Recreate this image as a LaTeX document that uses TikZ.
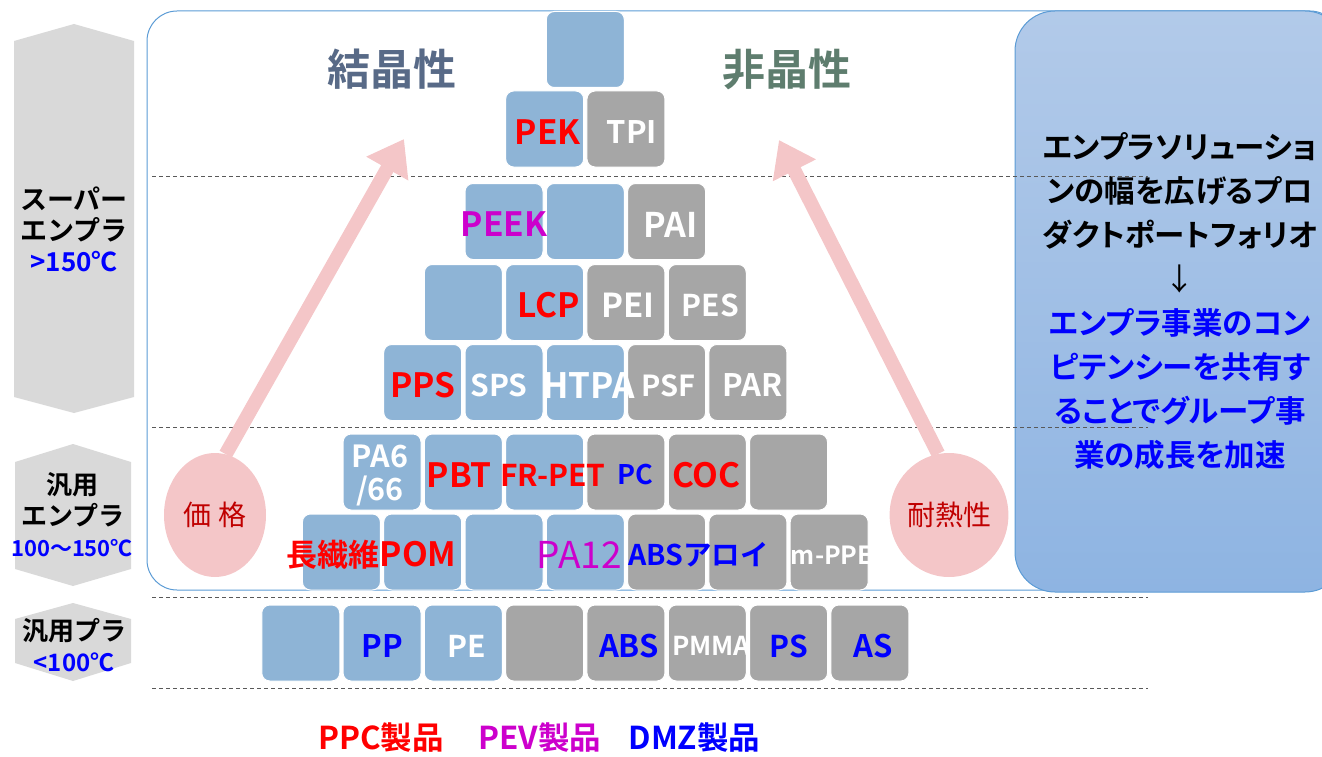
\documentclass[tikz,border=0pt]{standalone}
\usepackage{fontspec}
\setmainfont{Noto Sans CJK JP}[BoldFont={Noto Sans CJK JP Bold}]
\newfontfamily\jpb{Noto Sans CJK JP Bold}
\newfontfamily\jpr{Noto Sans CJK JP}
\newfontfamily\jpbp{Noto Sans CJK JP Bold}[RawFeature=+palt]
\usetikzlibrary{shapes.geometric,arrows.meta,positioning}
\definecolor{plblue}{RGB}{142,180,214}
\definecolor{plgray}{RGB}{166,166,166}
\definecolor{hexgray}{RGB}{217,217,217}
\definecolor{ppcred}{RGB}{255,0,0}
\definecolor{pevmag}{RGB}{204,0,204}
\definecolor{dmzblue}{RGB}{0,0,255}
\definecolor{pinkarr}{RGB}{244,198,200}
\definecolor{framebl}{RGB}{91,155,213}
\definecolor{boxtop}{RGB}{178,202,233}
\definecolor{boxbot}{RGB}{142,180,226}
\definecolor{crystal}{RGB}{88,106,135}
\definecolor{amorph}{RGB}{94,125,110}
\definecolor{pricered}{RGB}{192,0,0}
\tikzset{
block/.style = {draw=white, line width=1pt, rounded corners=8pt, minimum width=78pt, minimum height=76pt, inner sep=0pt},
lbl/.style = {inner sep=0pt, yshift=-3pt, font=\fontsize{33.5}{35}\selectfont\bfseries},
redlbl/.style = {lbl, text=ppcred},
maglbl/.style = {lbl, text=pevmag},
whitelbl/.style = {lbl, text=white, font=\fontsize{31}{33}\selectfont\bfseries},
bluelbl/.style = {lbl, text=dmzblue, font=\fontsize{31}{33}\selectfont\bfseries},
tagjp/.style = {inner sep=0pt, align=center, font=\fontsize{26}{31.5}\selectfont\jpb},
tagtemp/.style = {inner sep=0pt, text=dmzblue, font=\fontsize{24}{26}\selectfont\bfseries},
head/.style = {inner sep=0pt, font=\fontsize{43}{45}\selectfont\jpb},
oval/.style = {ellipse, fill=pinkarr, minimum width=102pt, minimum height=124pt, inner sep=0pt, text=pricered, font=\fontsize{28}{30}\selectfont\jpr},
pinkarrow/.style = {draw=pinkarr, line width=14pt, -{Triangle[width=46pt,length=34pt]}},
sepline/.style = {draw=black!65, line width=1pt, dash pattern=on 4pt off 3pt},
infobox/.style = {rounded corners=40pt, draw=framebl, line width=1pt, top color=boxtop, bottom color=boxbot, minimum width=330pt, minimum height=581pt, inner sep=0pt, align=center, font=\fontsize{30.5}{44}\selectfont\jpbp},
legend/.style = {inner sep=0pt, anchor=west, font=\fontsize{31.5}{33}\selectfont\bfseries}
}
\begin{document}
\begin{tikzpicture}[x=1pt, y=-1pt]
  \useasboundingbox (0,0) rectangle (1322,757);
  \clip (0,0) rectangle (1322,757);
  \draw[framebl, line width=1pt, rounded corners=30pt] (147,11) rectangle (1340,590);
  \node[infobox] (info) at (1180,301.5) {エンプラソリューショ\\ンの幅を広げるプロ\\ダクトポートフォリオ\\{\jpr ↓}\\
    \textcolor{dmzblue}{エンプラ事業のコン}\\\textcolor{dmzblue}{ピテンシーを共有す}\\
    \textcolor{dmzblue}{ることでグループ事}\\\textcolor{dmzblue}{業の成長を加速}};
  \foreach \y in {176,427,597,688}
    \draw[sepline] (152,\y) -- (1148,\y);

  \foreach \xl/\xr/\ya/\yb/\yc/\yd in {14/134/24/41/397/413, 15/131/444/462/569/586, 15/131/603/619/663/681}
    \fill[hexgray] (\xl,\yb) -- ({(\xl+\xr)/2},\ya) -- (\xr,\yb) -- (\xr,\yc) -- ({(\xl+\xr)/2},\yd) -- (\xl,\yc) -- cycle;
  \node[tagjp, font=\fontsize{27}{31}\selectfont\jpb] (superJp) at (74,214) {スーパー\\エンプラ};
  \node[tagtemp, font=\fontsize{26}{28}\selectfont\bfseries] (superT) at (74,262) {>150℃};
  \node[tagjp] (genEp) at (73,500) {汎用\\エンプラ};
  \node[tagtemp, font=\fontsize{22}{24}\selectfont\bfseries] (genEpT) at (72,548) {100～150℃};
  \node[tagjp] (genP) at (74,631) {汎用プラ};
  \node[tagtemp] (genPT) at (74,662) {<100℃};

  \node[head, text=crystal] (cryst) at (392,69) {結晶性};
  \node[head, text=amorph] (amorph) at (787,69) {非晶性};

  \foreach \y/\row [count=\r from 0] in {
      49.5/{0/plblue},
      129/{-0.5/plblue, 0.5/plgray},
      221.5/{-1/plblue, 0/plblue, 1/plgray},
      302.5/{-1.5/plblue, -0.5/plblue, 0.5/plgray, 1.5/plgray},
      382.5/{-2/plblue, -1/plblue, 0/plblue, 1/plgray, 2/plgray},
      472/{-2.5/plblue, -1.5/plblue, -0.5/plblue, 0.5/plgray, 1.5/plgray, 2.5/plgray},
      552/{-3/plblue, -2/plblue, -1/plblue, 0/plblue, 1/plgray, 2/plgray, 3/plgray},
      643/{-3.5/plblue, -2.5/plblue, -1.5/plblue, -0.5/plgray, 0.5/plgray, 1.5/plgray, 2.5/plgray, 3.5/plgray}}
    \foreach \k/\c [count=\n] in \row
      \node[block, fill=\c] (r\r-\n) at ({585.3+81.3*\k},\y) {};

  \node[redlbl, xshift=3pt] (tPEK) at (r1-1) {PEK};
  \node[whitelbl, xshift=6pt] (tTPI) at (r1-2) {TPI};
  \node[maglbl] (tPEEK) at (r2-1) {PEEK};
  \node[whitelbl, xshift=4pt, font=\fontsize{34}{36}\selectfont\bfseries] (tPAI) at (r2-3) {PAI};
  \node[redlbl, xshift=4pt] (tLCP) at (r3-2) {LCP};
  \node[whitelbl, xshift=2pt, font=\fontsize{33}{35}\selectfont\bfseries] (tPEI) at (r3-3) {PEI};
  \node[whitelbl, xshift=3pt, font=\fontsize{30}{32}\selectfont\bfseries] (tPES) at (r3-4) {PES};
  \node[redlbl] (tPPS) at (r4-1) {PPS};
  \node[whitelbl, xshift=-5pt, font=\fontsize{30}{32}\selectfont\bfseries] (tSPS) at (r4-2) {SPS};
  \node[whitelbl, xshift=3pt, font=\fontsize{35}{37}\selectfont\bfseries] (tHTPA) at (r4-3) {HTPA};
  \node[whitelbl, xshift=2pt, font=\fontsize{29}{31}\selectfont\bfseries] (tPSF) at (r4-4) {PSF};
  \node[whitelbl, xshift=5pt] (tPAR) at (r4-5) {PAR};
  \node[whitelbl, align=center, xshift=-2pt, font=\fontsize{30.5}{33}\selectfont\bfseries] (tPA6) at (r5-1) {PA6\\/66};
  \node[redlbl, xshift=-4pt] (tPBT) at (r5-2) {PBT};
  \node[redlbl, xshift=8pt, font=\fontsize{30}{32}\selectfont\bfseries] (tFRPET) at (r5-3) {FR-PET};
  \node[bluelbl, xshift=9pt, font=\fontsize{27}{29}\selectfont\bfseries] (tPC) at (r5-4) {PC};
  \node[redlbl, xshift=-1pt] (tCOC) at (r5-5) {COC};
  \node[redlbl, xshift=-51pt] (tPOM) at (r6-2) {{\fontsize{31}{33}\selectfont 長繊維}POM};
  \node[maglbl, xshift=-6pt, font=\fontsize{37}{39}\selectfont] (tPA12) at (r6-4) {PA12};
  \node[bluelbl, xshift=32pt, font=\fontsize{28.5}{30}\selectfont\bfseries] (tABSa) at (r6-5) {ABSアロイ};
  \node[whitelbl, anchor=west, font=\fontsize{25}{27}\selectfont\bfseries] (tmPPE) at ([xshift=1pt]r6-7.west) {m-PPE};
  \node[bluelbl] (tPP) at (r7-2) {PP};
  \node[whitelbl, xshift=3pt, font=\fontsize{30}{32}\selectfont\bfseries] (tPE) at (r7-3) {PE};
  \node[bluelbl, xshift=3pt] (tABS) at (r7-5) {ABS};
  \node[whitelbl, xshift=4pt, font=\fontsize{26}{28}\selectfont\bfseries] (tPMMA) at (r7-6) {PMMA};
  \node[bluelbl, font=\fontsize{30}{32}\selectfont\bfseries] (tPS) at (r7-7) {PS};
  \node[bluelbl, xshift=3pt] (tAS) at (r7-8) {AS};

  \node[oval] (price) at (215,515) {価 格};
  \node[oval] (heat) at (949,515) {耐熱性};
  \coordinate (priceTip) at (404,139);
  \coordinate (heatTip) at (779,140);
  \draw[pinkarrow] (price.80) -- (priceTip);
  \draw[pinkarrow] (heat.100) -- (heatTip);

  \node[legend, text=ppcred] (legPPC) at (318,738) {PPC製品};
  \node[legend, text=pevmag, right=34pt of legPPC] (legPEV) {PEV製品};
  \node[legend, text=dmzblue, right=27pt of legPEV] (legDMZ) {DMZ製品};
\end{tikzpicture}
\end{document}
